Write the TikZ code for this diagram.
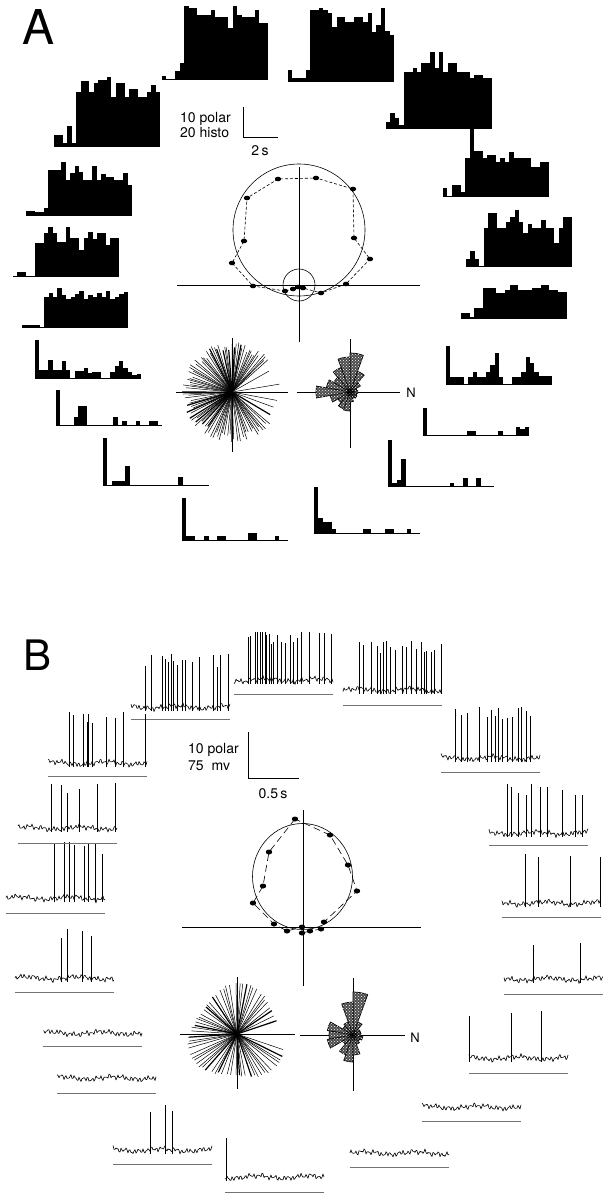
\documentclass[tikz,border=0pt]{standalone}
\usepackage{fontspec}
\setmainfont{TeX Gyre Heros}
\usetikzlibrary{patterns}

% one histogram: left end, base line, 24 bin heights
\newcommand{\histo}[3]{%
  \foreach \h [count=\k from 0] in {#3}{\fill (#1+\k*4.417,#2) rectangle ++(4.417,-\h);}
  \draw[histbase] (#1,#2) -- ++(106,0);}
% one membrane trace: left end, resting level, time line
\newcommand{\vmtrace}[3]{%
  \draw[trc] plot[domain=0:99,samples=100] ({#1+\x},{#2-1.5*sin(83*\x+#1)-1.1*sin(131*\x+#1)-0.9*sin(29*\x+#2)-1.4*sin(7*\x+#1)});
  \draw[under] (#1,#3) -- ++(99,0);}
% spikes on a trace: left end, resting level, height, positions
\newcommand{\vmspikes}[4]{%
  \foreach \p in {#4}{\draw[trc] ({#1+\p},{#2+4}) -- ({#1+\p},{#2-#3*(0.75+0.25*abs(sin(\p*73)))});}}

\begin{document}
\begin{tikzpicture}[x=1pt,y=-1pt,
  histbase/.style={line width=0.6pt},
  axis/.style={line width=0.9pt},
  fit/.style={line width=0.6pt},
  ray/.style={line width=0.5pt},
  petal/.style={draw=black,line width=0.7pt,fill=black!70,postaction={pattern=crosshatch dots,pattern color=white}},
  trc/.style={line width=0.6pt,line join=round},
  under/.style={black!55,line width=0.7pt},
  lbl/.style={font=\fontsize{14}{16}\selectfont,inner sep=0pt},
  panel/.style={inner sep=0pt}]
\useasboundingbox (0,0) rectangle (612,1199);

%%% panel A
\node[panel,font=\fontsize{48}{48}\selectfont] (labA) at (38.5,27.5) {A};

%histograms
\histo{162}{79}{3,0,0,8,16,73,71,71,64,64,64,69,62,62,62,51,73,64,62,62,62,69,56,56}
\histo{288}{81}{11,3,3,3,11,71,71,73,71,68,54,64,64,59,59,64,64,59,68,49,56,73,50,46}
\histo{386}{128}{6,15,10,3,56,56,60,56,65,65,76,60,76,56,65,65,56,56,56,50,53,53,50,50}
\histo{443}{196}{8,0,11,11,4,38,68,45,45,38,41,41,34,38,34,44,38,38,38,38,29,29,34,34}
\histo{466}{266}{7,15,7,0,38,53,53,38,38,44,49,56,44,33,42,38,38,46,38,38,23,38,49,49}
\histo{461}{318}{5,5,1,10,10,30,30,30,25,25,28,33,33,28,28,28,30,30,33,33,28,28,26,26}
\histo{446}{384}{38,7,7,7,0,7,12,7,7,12,19,31,7,0,0,7,7,12,27,21,12,8,8,8}
\histo{423}{435}{27,0,0,0,0,0,0,0,0,0,4,4,0,0,0,0,0,4,0,0,0,8,6,8}
\histo{388}{486}{46,3,6,27,0,0,0,0,0,0,0,0,0,0,3,0,0,8,0,0,8,0,0,0}
\histo{314}{533}{46,15,11,11,4,0,0,0,0,0,0,4,4,0,0,0,4,4,0,0,0,4,0,0}
\histo{182}{540}{42,4,4,0,0,4,0,0,4,4,0,0,0,0,0,7,7,0,0,0,0,4,0,0}
\histo{103}{485}{47,0,4,4,4,19,0,0,0,0,0,0,0,0,0,0,0,8,0,0,0,0,0,0}
\histo{56}{425}{35,0,0,0,8,19,19,0,0,0,0,0,0,8,0,4,0,0,4,0,0,4,4,0}
\histo{35}{378}{38,8,8,18,8,8,17,8,0,7,7,10,5,6,6,0,0,6,12,17,10,6,3,4}
\histo{22}{327}{2,2,2,2,0,30,34,30,39,32,28,30,33,36,28,32,30,34,30,36,28,30,33,35}
\histo{54}{146}{11,11,3,20,3,54,65,65,54,63,66,66,69,49,63,63,49,57,57,49,49,54,61,54}
\histo{26}{215}{4,4,3,3,7,45,45,45,53,35,42,49,43,35,35,49,35,41,38,38,35,35,42,30}
\histo{13}{276}{0,4,4,0,0,33,33,43,49,43,34,34,49,38,38,26,38,44,37,43,43,31,38,38}

%scale bar
\node[lbl,anchor=base west] (polA) at (180,122.5) {10 polar};
\node[lbl,anchor=base west] (hisA) at (180,137) {20 histo};
\draw[axis] (243,107) -- (243,137) -- (278,137);
\node[lbl,anchor=base] (secA) at (260,155) {2\,s};

%polar plot
\coordinate (oA) at (299,285);
\draw[axis] (177,285) -- (420,285);
\draw[axis] (299,167) -- (299,342);
\draw[fit] (299,230) circle (66);
\draw[fit] (oA) circle (16);
\draw[fit,dash pattern=on 3pt off 2pt] (285,291) -- (253,286) -- (232,263) -- (244,241) -- (247,198) -- (278,179) -- (316,178) -- (353,189) -- (354,238) -- (370,259) -- (346,284) -- (321,293) -- (303,288) -- (298,287) -- (293,289) -- cycle;
\foreach \px/\py in {285/291,253/286,232/263,244/241,247/198,278/179,316/178,353/189,354/238,370/259,346/284,321/293,303/288,298/287,293/289}
  \fill (\px,\py) ellipse (3.2 and 2.3);

%rays
\coordinate (raysA) at (232,392);
\foreach \i in {1,...,120}{
  \pgfmathsetmacro\ang{10*mod(\i*13.7508,36)}
  \pgfmathsetmacro\len{46+4*sin(\i*71)}
  \pgfmathsetmacro\lw{mod(\i,7)==0 ? 1.2 : 0.5}
  \pgfmathtruncatemacro\keep{or(and(\ang>40,\ang<320),mod(\i,4)==0)}
  \ifnum\keep=1 \draw[ray,line width=\lw pt] (raysA) -- ++(\ang:\len); \fi
}
\draw[axis] (176,392) -- (288,392);
\draw[axis] (232,338) -- (232,452);

%rose
\coordinate (roseA) at (350,392);
\draw[axis] (297,392) -- (400,392);
\draw[axis] (350,339) -- (350,448);
\foreach \a/\r in {50/22,70/39,90/35,110/26,130/19,150/24,170/34,190/20,210/14,230/18,250/19,270/10,290/7,310/8,330/7,350/8,10/7,30/12}
  \filldraw[petal] (roseA) -- ++(-\a:\r) arc (-\a:-\a-20:\r) -- cycle;
\node[font=\fontsize{13}{13}\selectfont,inner sep=0pt] (nA) at (411,393) {N};

%%% panel B
\node[panel,font=\fontsize{42}{42}\selectfont] (labB) at (37.5,655) {B};

%traces
\vmtrace{131}{707}{719} \vmspikes{131}{707}{53}{14.7,20.7,31.3,34,37.3,40.7,42.3,46.7,51.3,54.7,61.3,68.3,82.3,86.3,89.7,97.3}
\vmtrace{234}{680}{694} \vmspikes{234}{680}{48}{14.3,16.7,21,23.3,26,28.3,31,32.7,35.3,37,39.3,43.7,47,51.7,56,59.3,63.7,67.7,75.3,85.3,90.3,97}
\vmtrace{343}{690}{705} \vmspikes{343}{690}{49}{16.3,20.3,28,34,37,40.3,43,47.3,52,59.7,63.7,68,73.7,78,81.3,83.7,88.7,91,98}
\vmtrace{441}{758}{772} \vmspikes{441}{758}{51}{14,20,26.7,38.3,46.7,50,54,57.7,61.7,66.7,71.7,77.3,80,85.7,89}
\vmtrace{489}{833}{845} \vmspikes{489}{833}{51}{18,22.7,29.7,37,42.7,51.3,58.7,73.7,86.3,93.7}
\vmtrace{502}{903}{917} \vmspikes{502}{903}{49}{23.3,36.3,68.3,98}
\vmtrace{504}{979}{994} \vmspikes{504}{979}{41}{29.3,76}
\vmtrace{469}{1058}{1073} \vmspikes{469}{1058}{47}{0.5,42.7,72.7}
\vmtrace{422}{1107}{1121}
\vmtrace{350}{1153}{1167}
\vmtrace{225}{1177}{1192} \draw[trc] (226,1138) -- (226,1181);
\vmtrace{113}{1150}{1164} \vmspikes{113}{1150}{50}{37,52.3,59.3}
\vmtrace{57}{1078}{1093}
\vmtrace{43}{1033}{1046}
\vmtrace{15}{978}{992} \vmspikes{15}{978}{50}{46.7,52.7,67.3,76.7}
\vmtrace{6}{898}{913} \vmspikes{6}{898}{56}{48.3,58,63,68.3,78.3,82.3,89.7,96.3}
\vmtrace{18}{828}{843} \vmspikes{18}{828}{46}{33.7,43.7,49.3,61.3,79.7,97}
\vmtrace{48}{763}{776} \vmspikes{48}{763}{51}{21,25.3,35.3,39.3,40.3,44.3,58.7,67,75.3,97}

%scale bar
\node[lbl,anchor=base west] (polB) at (188,753.5) {10 polar};
\node[lbl,anchor=base west] (mvB) at (188,770.7) {75~ mv};
\draw[axis] (248,732) -- (248,778) -- (299,778);
\node[lbl,anchor=base] (secB) at (273,798.3) {0.5\,s};

%polar plot
\coordinate (oB) at (303,927);
\draw[axis] (182,927) -- (421,927);
\draw[axis] (303,810) -- (303,986);
\draw[fit] (302.5,876.5) ellipse (50 and 53);
\draw[fit,dash pattern=on 7pt off 4pt] (295,819) -- (269,852) -- (263,886) -- (253,903) -- (274,924) -- (287,931) -- (302,927) -- (302,933) -- (310,931) -- (321,929) -- (324,922) -- (357,891) -- (348,865) -- (330,835) -- cycle;
\foreach \px/\py in {295/819,269/852,263/886,253/903,274/924,287/931,302/927,302/933,310/931,321/929,324/922,357/891,348/865,330/835}
  \fill (\px,\py) ellipse (3.2 and 2.5);

%rays
\coordinate (raysB) at (237,1034);
\foreach \i in {1,...,72}{
  \pgfmathsetmacro\ang{10*mod(\i*13.7508+1.1,36)}
  \pgfmathsetmacro\len{46+5*sin(\i*53)}
  \pgfmathsetmacro\lw{mod(\i,6)==0 ? 1.2 : 0.5}
  \pgfmathtruncatemacro\keep{or(and(\ang>30,\ang<330),mod(\i,3)==0)}
  \ifnum\keep=1 \draw[ray,line width=\lw pt] (raysB) -- ++(\ang:\len); \fi
}
\draw[axis] (180,1034) -- (295,1034);
\draw[axis] (237,977) -- (237,1089);

%rose
\coordinate (roseB) at (353,1035);
\draw[axis] (300,1035) -- (405,1035);
\draw[axis] (353,978) -- (353,1091);
\foreach \a/\r in {50/14,70/43,90/33,110/14,130/12,150/26,170/24,190/26,210/12,230/21,250/27,270/20,290/10,310/8,330/10,350/8,10/8,30/8}
  \filldraw[petal] (roseB) -- ++(-\a:\r) arc (-\a:-\a-20:\r) -- cycle;
\node[font=\fontsize{13}{13}\selectfont,inner sep=0pt] (nB) at (415,1038) {N};
\end{tikzpicture}
\end{document}
